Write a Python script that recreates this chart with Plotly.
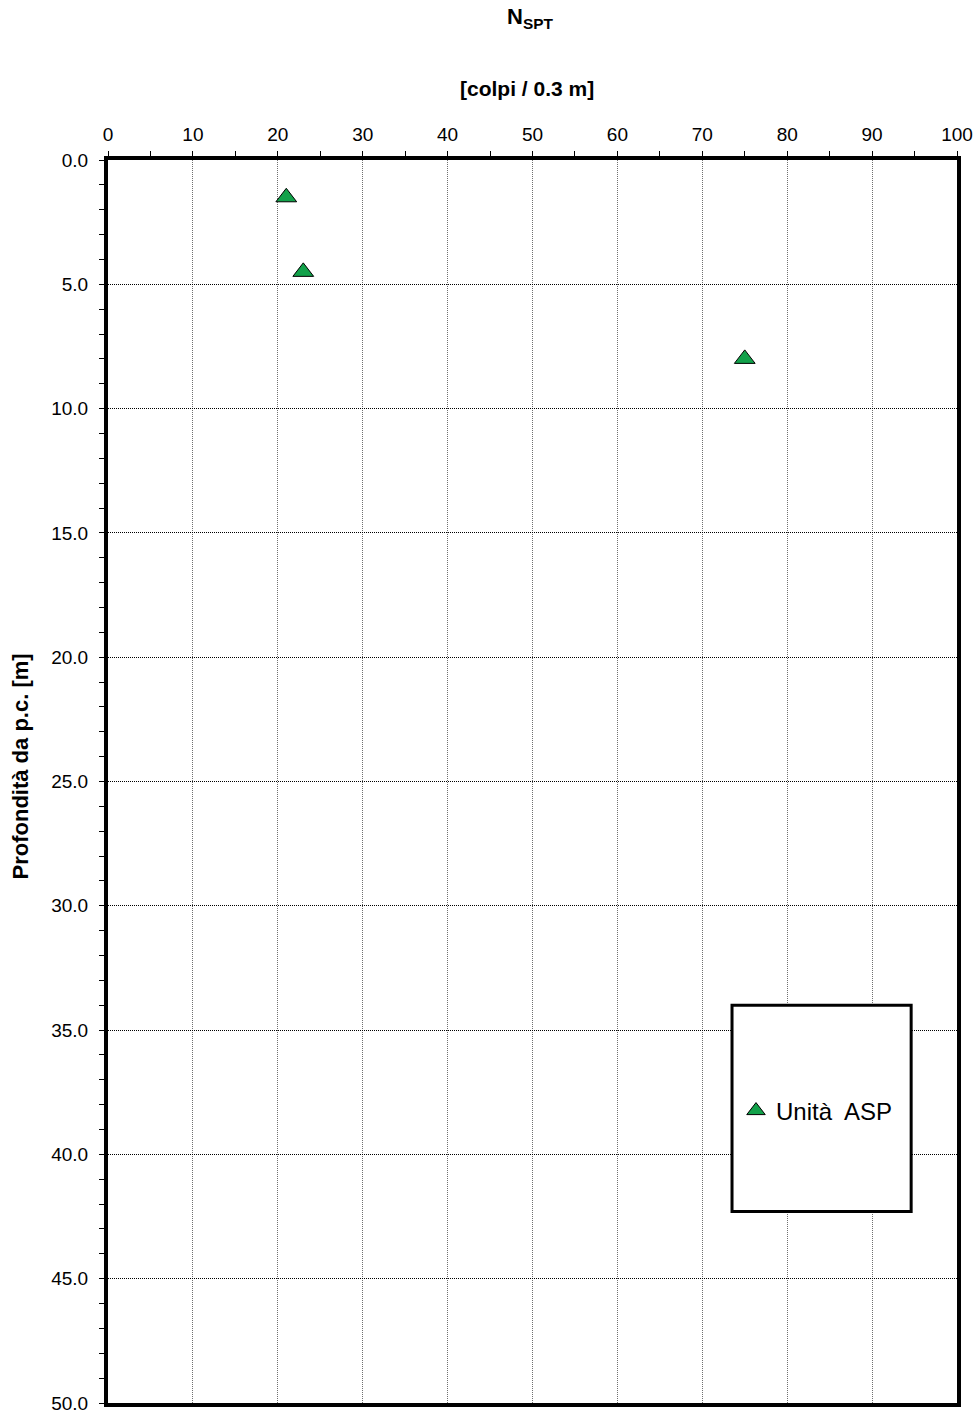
import plotly.graph_objects as go

# Data
nspt = [21, 23, 75]
depth = [1.5, 4.5, 8.0]
series_name = "Unità\u00a0 ASP"
x_ticks = list(range(0, 101, 10))
y_ticks = [i * 5.0 for i in range(11)]

FONT = "Liberation Sans, Arial, sans-serif"

fig = go.Figure()
fig.add_trace(go.Scatter(
    x=nspt, y=depth, mode="markers", name=series_name,
    marker=dict(symbol="triangle-up", size=18, color="#12A14A",
                line=dict(color="black", width=1)),
))

L, R, T, B = 108, 21, 160, 10
W, H = 978, 1413
PW, PH = W - L - R, H - T - B

fig.update_layout(
    width=W, height=H,
    margin=dict(l=L, r=R, t=T, b=B, pad=0, autoexpand=False),
    paper_bgcolor="white", plot_bgcolor="white",
    font=dict(family=FONT, size=19, color="black"),
    showlegend=True,
    legend=dict(x=(736 - L) / PW, y=1 - (1111 - T) / PH,
                xanchor="left", yanchor="middle",
                bgcolor="rgba(0,0,0,0)", borderwidth=0,
                font=dict(size=24, family=FONT),
                itemwidth=30),
)

fig.update_xaxes(
    side="top", range=[0, 100], tickvals=x_ticks,
    ticks="outside", ticklen=5, tickwidth=1, tickcolor="black",
    showline=True, linecolor="black", linewidth=4, mirror=True,
    showgrid=True, gridcolor="#707070", gridwidth=1, griddash="1px,1px",
    zeroline=False, automargin=False, ticklabeloverflow="allow",
    minor=dict(dtick=5, ticks="outside", ticklen=5, tickcolor="black", showgrid=False),
    tickfont=dict(size=19, family=FONT),
    ticklabelstandoff=2,
)
fig.update_yaxes(
    range=[50, 0], tickvals=y_ticks, tickformat=".1f",
    ticks="outside", ticklen=5, tickwidth=1, tickcolor="black",
    showline=True, linecolor="black", linewidth=4, mirror=True,
    showgrid=True, gridcolor="#000000", gridwidth=1, griddash="1px,1px",
    zeroline=False, automargin=False, ticklabeloverflow="allow",
    minor=dict(dtick=1, ticks="outside", ticklen=5, tickcolor="black", showgrid=False),
    tickfont=dict(size=19, family=FONT),
    ticklabelstandoff=7,
)

# Legend frame
fig.add_shape(type="rect", xref="x", yref="y", x0=73.5, x1=94.6, y0=34.0, y1=42.3,
              line=dict(color="black", width=3), fillcolor="white", layer="above")

fig.add_annotation(text="<b>N<sub>SPT</sub></b>", xref="paper", yref="paper",
                   x=(530 - L) / PW, y=1, yshift=160 - 18, showarrow=False, yanchor="middle",
                   font=dict(size=22, family=FONT))
fig.add_annotation(text="<b>[colpi / 0.3 m]</b>", xref="paper", yref="paper",
                   x=(527 - L) / PW, y=1, yshift=160 - 88, showarrow=False, yanchor="middle",
                   font=dict(size=21, family=FONT))
fig.add_annotation(text="<b>Profondità da p.c. [m]</b>", xref="paper", yref="paper",
                   x=0, xshift=19.5 - L, y=1 - (767 - T) / PH, showarrow=False,
                   textangle=-90, xanchor="center", yanchor="middle",
                   font=dict(size=22, family=FONT))

fig.write_html("out.html")
